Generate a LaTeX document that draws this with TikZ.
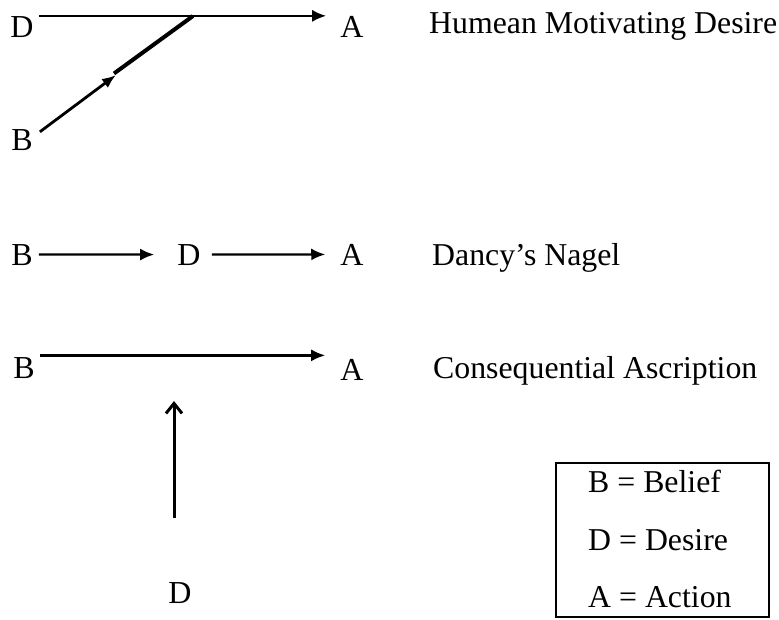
\documentclass[tikz,border=0pt]{standalone}
\usepackage{fontspec}
\setmainfont{Liberation Serif}
\usetikzlibrary{arrows.meta}
\begin{document}
\begin{tikzpicture}[x=1pt,y=-1pt,
  lett/.style={inner sep=0pt,anchor=base,font=\fontsize{32}{36}\selectfont},
  lab/.style={inner sep=0pt,anchor=base west,font=\fontsize{31.8}{36}\selectfont},
  conn/.style={line width=2.3pt,-{Latex[length=14pt,width=12pt]}},
  legendbox/.style={draw,line width=2pt,minimum width=213pt,minimum height=154pt,inner sep=0pt}]
\useasboundingbox (0,0) rectangle (779,619);
% row 1
\node[lett] (D1) at (22,37) {D};
\node[lett] (A1) at (352,37) {A};
\node[lett] (B1) at (22,150) {B};
\node[lab] (L1) at (429,33) {Humean Motivating Desire};
\coordinate (J) at (193,16);
\coordinate (M) at (116,75);
\draw[conn] ([xshift=5pt]D1.north east) -- ([xshift=-14pt]A1.west |- D1.north east);
\draw[line width=2.8pt,-{Latex[length=14pt,width=11pt]}] ([xshift=7pt,yshift=-3pt]B1.north east) -- (M);
\draw[line width=4pt] ([shift={(-2pt,1.5pt)}]M) -- (J);
% row 2
\node[lett] (B2) at (22,265) {B};
\node[lett] (D2) at (189,265) {D};
\node[lett] (A2) at (352,265) {A};
\node[lab] (L2) at (432,265) {Dancy’s Nagel};
\draw[conn] ([xshift=6pt]B2.east) -- ([xshift=-23pt]D2.west);
\draw[conn] ([xshift=11pt]D2.east) -- ([xshift=-15pt]A2.west);
% row 3
\node[lett] (B3) at (24,378) {B};
\node[lett] (A3) at (352,380) {A};
\node[lab] (L3) at (433,378) {Consequential Ascription};
\draw[conn] ([xshift=5pt,yshift=1.5pt]B3.north east) -- ([xshift=-15pt,yshift=1.5pt]A3.west |- B3.north east);
% vertical
\node[lett] (D4) at (180,603) {D};
\coordinate (vt) at (174,518);
\coordinate (vh) at (174,401);
\draw[line width=3pt,-{Straight Barb[length=10pt,width=16pt,line width=3pt]}] (vt) -- (vh);
% legend
\node[legendbox] (legend) at (662.5,540) {};
\node[lab] (k1) at (588,492) {B = Belief};
\node[lab] (k2) at (588,550) {D = Desire};
\node[lab] (k3) at (588,607) {A = Action};
\end{tikzpicture}
\end{document}
